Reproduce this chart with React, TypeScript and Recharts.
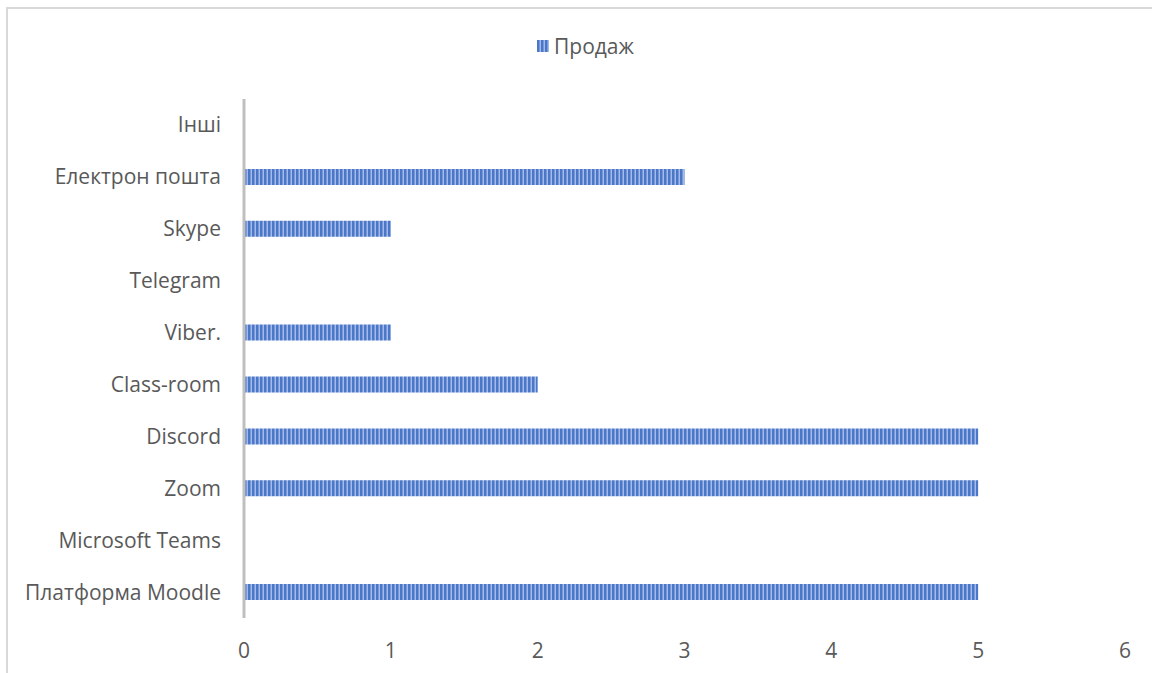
import React from "react";
import { BarChart, Bar, XAxis, YAxis, Legend } from "recharts";

const categories = [
  "Платформа Moodle",
  "Microsoft Teams",
  "Zoom",
  "Discord",
  "Class-room",
  "Viber.",
  "Telegram",
  "Skype",
  "Електрон пошта",
  "Інші",
];
const salesValues = [5, 0, 5, 5, 2, 1, 0, 1, 3, 0];
const xTicks = [0, 1, 2, 3, 4, 5, 6];
const seriesName = "Продаж";

const data = categories.map((c, i) => ({ name: c, value: salesValues[i] }));

const FONT = "'Open Sans', sans-serif";
const FS = 21;

const LegendContent = () => (
  <div
    style={{
      height: 24,
      display: "flex",
      alignItems: "center",
      justifyContent: "center",
      fontFamily: FONT,
      fontSize: FS,
      color: "#595959",
      paddingLeft: 46,
    }}
  >
    <svg width={12} height={12} style={{ marginRight: 5 }}>
      <rect x={0} y={0} width={12} height={12} fill="url(#stripes)" />
    </svg>
    <span>{seriesName}</span>
  </div>
);

export default function App() {
  return (
    <div style={{ position: "fixed", left: 0, top: 0, width: 1152, height: 673, overflow: "hidden", background: "#fff" }}>
      <div style={{ position: "absolute", left: 0, top: 0 }}>
        <BarChart
          width={1152}
          height={673}
          data={data}
          layout="vertical"
          margin={{ top: 75, right: 27, bottom: 25, left: 0 }}
          barSize={16}
        >
          <defs>
            <pattern id="stripes" patternUnits="userSpaceOnUse" width={4} height={4}>
              <rect x={0} y={0} width={4} height={4} fill="#4a77c8" />
              <rect x={2.5} y={0} width={1.5} height={4} fill="#a3bbe6" />
            </pattern>
          </defs>
          <Legend
            verticalAlign="top"
            align="center"
            content={<LegendContent />}
            wrapperStyle={{ top: 34 }}
          />
          <XAxis
            type="number"
            domain={[0, 6]}
            ticks={xTicks}
            axisLine={false}
            tickLine={false}
            tickSize={0}
            tickMargin={25}
            tick={{ fill: "#595959", fontSize: FS, fontFamily: FONT }}
            interval={0}
          />
          <YAxis
            type="category"
            dataKey="name"
            reversed
            width={244}
            axisLine={{ stroke: "#bfbfbf", strokeWidth: 3 }}
            tickLine={false}
            tickSize={0}
            tickMargin={23}
            tick={{ fill: "#595959", fontSize: FS, fontFamily: FONT }}
            interval={0}
          />
          <Bar dataKey="value" name={seriesName} fill="url(#stripes)" isAnimationActive={false} />
        </BarChart>
      </div>
      <div
        style={{
          position: "absolute",
          left: 6,
          top: 7,
          width: 1200,
          height: 700,
          borderLeft: "2px solid #d9d9d9",
          borderTop: "2px solid #d9d9d9",
          boxSizing: "border-box",
          pointerEvents: "none",
        }}
      />
    </div>
  );
}
